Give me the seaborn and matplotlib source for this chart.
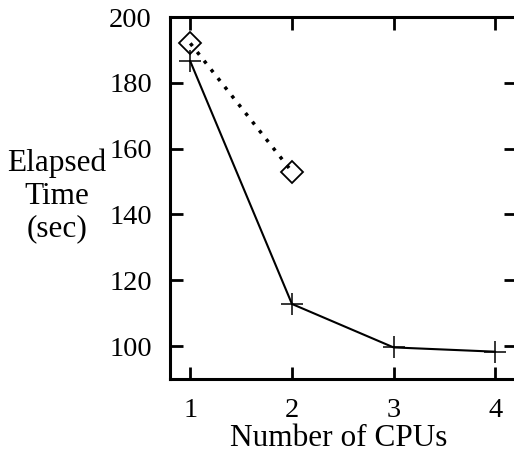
import matplotlib
matplotlib.use("Agg")
import matplotlib.pyplot as plt
import seaborn as sns
import pandas as pd

cpus_a = [1, 2, 3, 4]
time_a = [186.5, 112.8, 99.6, 98.3]
cpus_b = [1, 2]
time_b = [192.0, 153.0]
xticks = [1, 2, 3, 4]
yticks = [100, 120, 140, 160, 180, 200]

sns.set_theme(style="white")
plt.rcParams['font.family'] = ['Liberation Serif', 'DejaVu Serif']
plt.rcParams['text.color'] = 'black'
plt.rcParams['xtick.color'] = 'black'
plt.rcParams['ytick.color'] = 'black'
plt.rcParams['axes.labelcolor'] = 'black'

FS_TICK = 20.5
FS_LAB = 22.5

fig = plt.figure(figsize=(5.14, 4.55), dpi=100)
W, H = 514, 455
left, right, top, bottom = 170, 515.5, 17, 379
ax = fig.add_axes([left / W, 1 - bottom / H, (right - left) / W, (bottom - top) / H])

df_a = pd.DataFrame({"cpus": cpus_a, "time": time_a})
df_b = pd.DataFrame({"cpus": cpus_b, "time": time_b})

sns.lineplot(data=df_a, x="cpus", y="time", ax=ax, color="black", lw=1.5,
             marker="+", markersize=16, markeredgewidth=1.1,
             markeredgecolor="black", clip_on=False)
sns.lineplot(data=df_b, x="cpus", y="time", ax=ax, color="black", lw=2.5,
             linestyle=(0, (1, 2.2)), marker="D", markersize=11, markerfacecolor="none",
             markeredgecolor="black", markeredgewidth=1.3, clip_on=False)

ax.set_xlim(0.8, 4.2)
ax.set_ylim(90, 200)
ax.set_xticks(xticks)
ax.set_yticks(yticks)
ax.set_xticklabels([str(v) for v in xticks], fontsize=FS_TICK)
ax.set_yticklabels([str(v) for v in yticks], fontsize=FS_TICK)
ax.tick_params(direction="in", length=9, width=2.0, top=True, right=True,
               bottom=True, left=True, color="black")
ax.tick_params(axis="x", pad=14)
ax.tick_params(axis="y", pad=13)
for s in ax.spines.values():
    s.set_visible(True)
    s.set_color("black")
    s.set_linewidth(2.2)
ax.grid(False)
ax.set_xlabel("Number of CPUs", fontsize=FS_LAB, color="black")
ax.xaxis.label.set_va("baseline")
ax.xaxis.set_label_coords((338.5 - left) / (right - left), (bottom - 446) / (bottom - top))
ax.set_ylabel("")
fig.text(57 / W, 1 - 196 / H, "Elapsed\nTime\n(sec)", fontsize=FS_LAB, ha="center",
         va="center", linespacing=1.17, color="black")

fig.savefig("out.png", dpi=100)
